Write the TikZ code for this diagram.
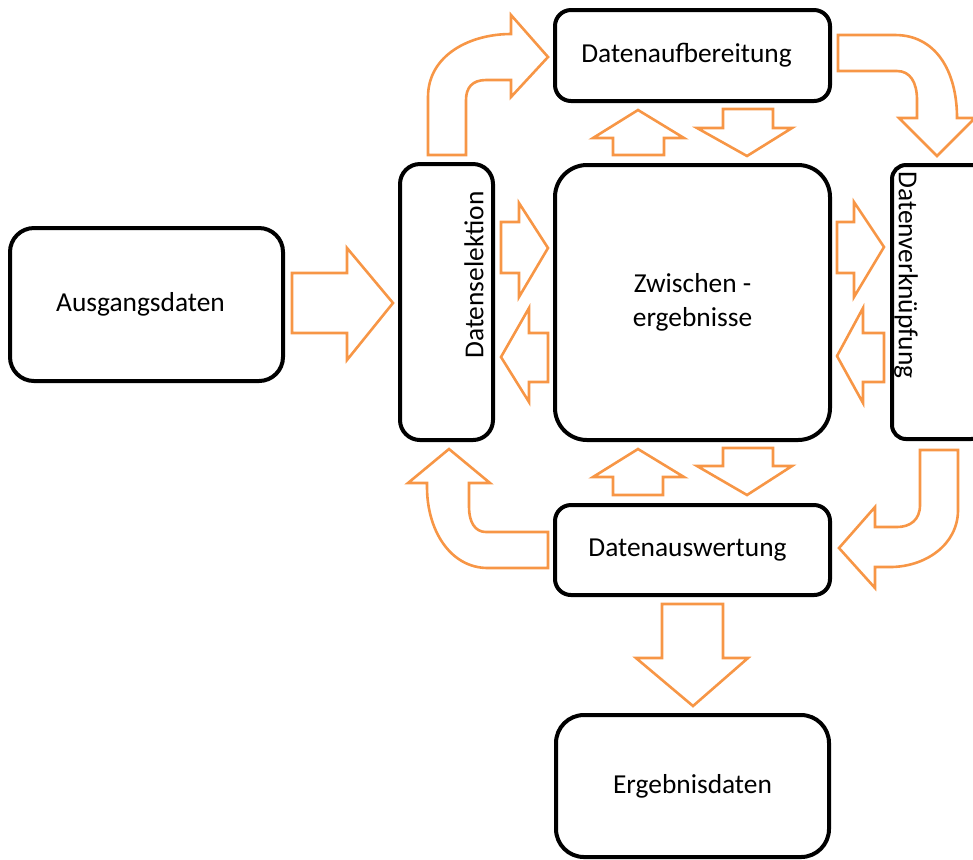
\documentclass[tikz,border=0pt]{standalone}
\usepackage{fontspec}
\setmainfont{Carlito}
\usepackage{tikz}
\definecolor{arroworange}{RGB}{247,150,70}

\begin{document}
\begin{tikzpicture}[x=0.5pt, y=-0.5pt,
        box/.style={draw, line width=2pt, rounded corners=#1, inner sep=0pt,
            font=\fontsize{13.7}{17}\selectfont, align=center},
        box/.default=8pt,
        lbl/.style={inner sep=0pt, font=\fontsize{13.7}{17}\selectfont},
        blockarrow/.style={draw=arroworange, line width=1.3pt, line join=miter}]
        \clip (0,0) rectangle (973,859);
        \node [box=12pt, minimum width=136.5pt, minimum height=76.5pt] (aus) at (146.5,304.5) {Ausgangsdaten\hspace*{6pt}};
        \node [box=10pt, minimum width=46.5pt, minimum height=138pt] (sel) at (446.5,302) {};
        \node [box=8pt, minimum width=137.5pt, minimum height=45.5pt] (auf) at (692.5,55.5) {Datenaufbereitung\hspace*{6pt}};
        \node [box=16pt, minimum width=137.5pt, minimum height=137.5pt] (zw) at (692.5,302.5) {Zwischen -\\ergebnisse};
        \node [box=7pt, minimum width=46.5pt, minimum height=137pt] (verk) at (938.5,302) {};
        \node [box=8pt, minimum width=137.5pt, minimum height=45pt] (ausw) at (692.5,550) {Datenauswertung\hspace*{5pt}};
        \node [box=14pt, minimum width=136.5pt, minimum height=71pt] (erg) at (692.5,786) {Ergebnisdaten};
        \node [lbl, rotate=90] (selt) at (474,275) {Datenselektion};
        \node [lbl, rotate=-90] (verkt) at (906,275) {Datenverknüpfung};
        % straight block arrows
        \draw [blockarrow] (292,273) -- (347,273) -- (347,248) -- (393,303) -- (347,360) -- (347,333) -- (292,333) -- cycle;
        \draw [blockarrow] (501,222) -- (519,222) -- (519,203) -- (548,248) -- (519,297) -- (519,273) -- (501,273) -- cycle;
        \draw [blockarrow] (548,333) -- (529,333) -- (529,308) -- (501,357) -- (529,402) -- (529,382) -- (548,382) -- cycle;
        \draw [blockarrow] (837,222) -- (854,222) -- (854,202) -- (884,247) -- (854,297) -- (854,273) -- (837,273) -- cycle;
        \draw [blockarrow] (884,333) -- (863,333) -- (863,308) -- (837,356) -- (863,403) -- (863,382) -- (884,382) -- cycle;
        \draw [blockarrow] (613,155) -- (613,138) -- (593,138) -- (638,110) -- (684,138) -- (664,138) -- (664,155) -- cycle;
        \draw [blockarrow] (723,109) -- (773,109) -- (773,128) -- (792,128) -- (747,156) -- (697,128) -- (723,128) -- cycle;
        \draw [blockarrow] (613,495) -- (613,477) -- (593,477) -- (638,449) -- (684,477) -- (663,477) -- (663,495) -- cycle;
        \draw [blockarrow] (723,448) -- (773,448) -- (773,466) -- (792,466) -- (747,495) -- (697,466) -- (723,466) -- cycle;
        \draw [blockarrow] (662,604) -- (723,604) -- (723,658) -- (748,658) -- (693,706) -- (636,658) -- (662,658) -- cycle;
        % bent block arrows
        \draw [blockarrow] (428,155) -- (428,97) .. controls (428,55) and (470,34) .. (511,34) -- (511,15) -- (548,57) -- (511,97) -- (511,80) -- (486,80) .. controls (472,80) and (466,88) .. (466,100) -- (466,155) -- cycle;
        \draw [blockarrow] (838,35) -- (895,35) .. controls (935,35) and (957,70) .. (957,118) -- (975,118) -- (937,156) -- (899,118) -- (917,118) -- (917,100) .. controls (917,82) and (910,71) .. (897,71) -- (838,71) -- cycle;
        \draw [blockarrow] (920,450) -- (958,450) -- (958,510) .. controls (958,545) and (925,567) .. (890,567) -- (875,567) -- (875,588) -- (839,548) -- (875,507) -- (875,527) -- (897,527) .. controls (910,527) and (920,520) .. (920,505) -- cycle;
        \draw [blockarrow] (548,532) -- (548,568) -- (488,568) .. controls (450,568) and (427,530) .. (427,487) -- (427,483) -- (408,483) -- (449,449) -- (490,483) -- (469,483) -- (469,507) .. controls (469,522) and (475,532) .. (486,532) -- cycle;
    \end{tikzpicture}
\end{document}
